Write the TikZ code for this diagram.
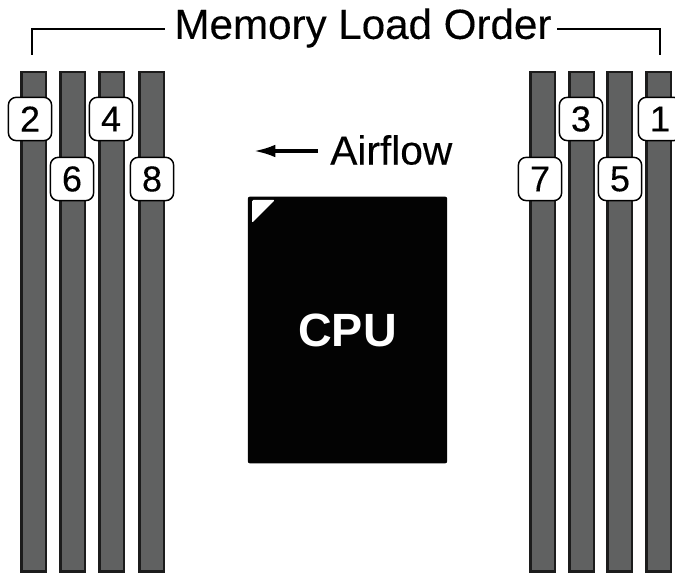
\documentclass[tikz,border=0pt]{standalone}
\usepackage{fontspec}
\setmainfont{Liberation Sans}
\newfontfamily\labelfont[FakeBold=0.25]{Liberation Sans}
\usetikzlibrary{arrows.meta, calc}
\definecolor{slotcol}{RGB}{96,97,97}
\definecolor{edgecol}{RGB}{28,28,28}
\definecolor{cpucol}{RGB}{3,3,3}

\begin{document}
\begin{tikzpicture}[
    x=0.75pt, y=-0.75pt,
    >=Latex,
    slotbox/.style={draw=edgecol, fill=slotcol, line width=2.2pt},
    tagbox/.style={draw=black, fill=white, line width=1.1pt, rounded corners=6pt,
      minimum width=32.5pt, minimum height=32.5pt, inner sep=0pt, font=\labelfont\fontsize{27}{27}\selectfont},
    headline/.style={line width=2.2pt, black}
  ]

  \useasboundingbox (0,0) rectangle (675,573);

  % --- memory slots ----------------------------------------------------
  \foreach \slotx in {21.5,60.5,99.5,139.5,530.5,569.5,607.5,646.5}
    \draw[slotbox] (\slotx,72) rectangle ++(24.5,499.5);

  % --- slot numbers ----------------------------------------------------
  \node[tagbox] (tag2) at (30,119)  {2};
  \node[tagbox] (tag4) at (111,119) {4};
  \node[tagbox] (tag6) at (72,179)  {6};
  \node[tagbox] (tag8) at (152,179) {8};
  \node[tagbox] (tag3) at (581,119) {3};
  \node[tagbox] (tag1) at (660,119) {1};
  \node[tagbox] (tag7) at (540,179) {7};
  \node[tagbox] (tag5) at (620,179) {5};

  % --- title and bracket -----------------------------------------------
  \node[font=\labelfont\fontsize{31.6}{31.6}\selectfont, inner sep=0pt] (title) at (363,28) {Memory Load Order};
  \coordinate (BracketL) at (32,55);
  \coordinate (BracketR) at (660,55);
  \draw[headline] (BracketL) -- (32,29) -- (165,29);
  \draw[headline] (557,29) -- (660,29) -- (BracketR);

  % --- airflow ---------------------------------------------------------
  \node[font=\labelfont\fontsize{30.5}{30.5}\selectfont, inner sep=0pt, anchor=west] (airflow) at (330,150) {Airflow};
  \coordinate (ArrowEnd) at (254,151);
  \draw[line width=2.3pt, -{Latex[length=16pt,width=9.5pt]}] (318,151) -- (ArrowEnd);

  % --- cpu -------------------------------------------------------------
  \node[fill=cpucol, rounded corners=1.5pt, minimum width=149.5pt, minimum height=200pt, inner sep=0pt,
    text=white, font=\bfseries\fontsize{35}{35}\selectfont] (cpu) at (347.5,330) {\raisebox{-1.5pt}{CPU}};
  \fill[white, rounded corners=1pt] (252,200) -- (275,200) -- (252,223) -- cycle;

\end{tikzpicture}
\end{document}
